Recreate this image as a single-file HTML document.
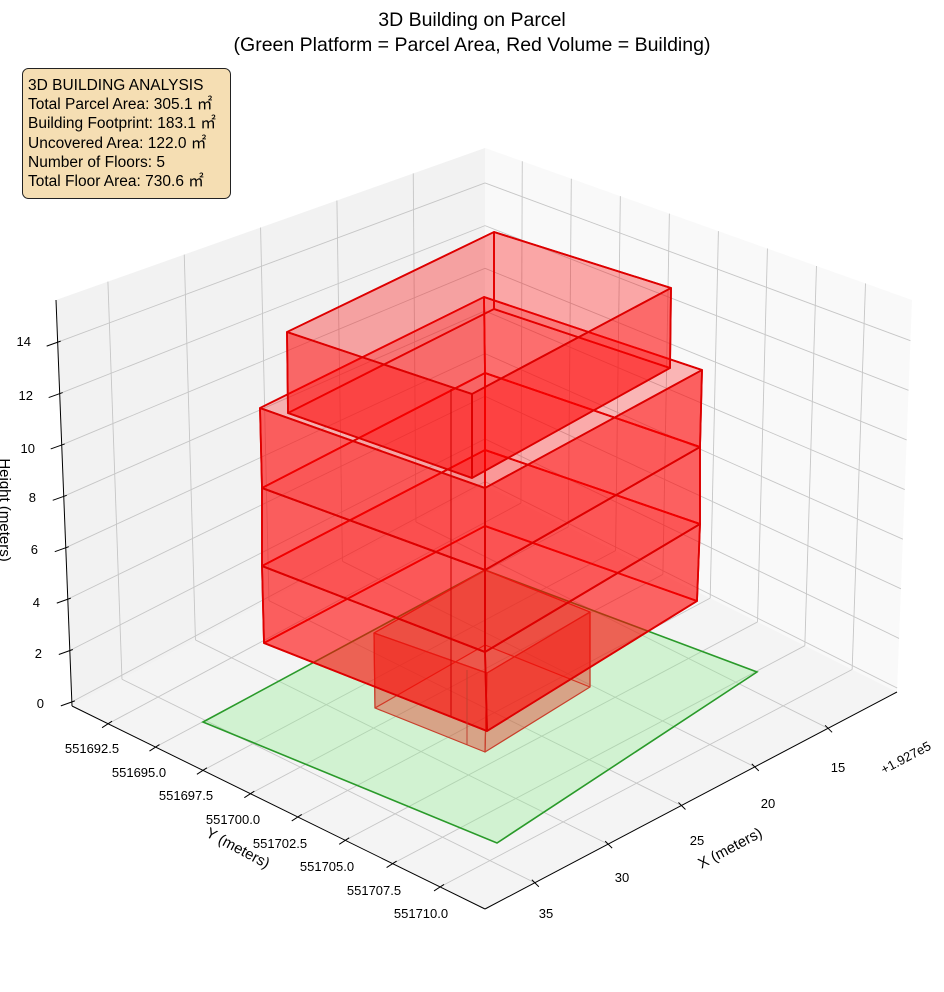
<!DOCTYPE html>
<html><head><meta charset="utf-8"><style>
html,body{margin:0;padding:0;background:#fff;}
svg{display:block;font-family:"Liberation Sans","Noto Sans CJK JP",sans-serif;}
</style></head><body>
<svg id="s" width="944" height="992" viewBox="0 0 944 992" xmlns="http://www.w3.org/2000/svg">
<polygon points="56,300 485,148 485,485 72,706" fill="#f2f2f2"/>
<polygon points="485,148 912,300 897,692 485,485" fill="#f9f9f9"/>
<polygon points="72,706 485,485 897,692 485,909" fill="#f4f4f4"/>
<g id="grid" stroke="#c6c6c6" stroke-width="0.9" fill="none"></g>
<polygon points="203,722 485,570 757,672 497,843" fill="rgba(144,238,144,0.35)" stroke="#2a9a2a" stroke-width="1.6"/>
<g id="boxes"></g>
<line x1="451" y1="389" x2="451" y2="716" stroke="#c00" stroke-width="1"/>
<line x1="467" y1="670" x2="467" y2="745" stroke="#c04030" stroke-width="1"/>
<g id="axes" stroke="#000" stroke-width="1" fill="none">
<line x1="72" y1="706" x2="56" y2="300"/>
<line x1="72" y1="706" x2="485" y2="909"/>
<line x1="485" y1="909" x2="897" y2="692"/>
</g>
<g font-size="13" fill="#000">
<text x="44" y="708" text-anchor="end">0</text>
<text x="42" y="658" text-anchor="end">2</text>
<text x="40" y="607" text-anchor="end">4</text>
<text x="38" y="554" text-anchor="end">6</text>
<text x="36" y="502" text-anchor="end">8</text>
<text x="35" y="453" text-anchor="end">10</text>
<text x="33" y="400" text-anchor="end">12</text>
<text x="31" y="346" text-anchor="end">14</text>
<text x="92" y="753" text-anchor="middle">551692.5</text>
<text x="139" y="777" text-anchor="middle">551695.0</text>
<text x="186" y="800" text-anchor="middle">551697.5</text>
<text x="233" y="824" text-anchor="middle">551700.0</text>
<text x="280" y="848" text-anchor="middle">551702.5</text>
<text x="327" y="871" text-anchor="middle">551705.0</text>
<text x="374" y="895" text-anchor="middle">551707.5</text>
<text x="421" y="918" text-anchor="middle">551710.0</text>
<text x="838" y="772" text-anchor="middle">15</text>
<text x="768" y="808" text-anchor="middle">20</text>
<text x="697" y="845" text-anchor="middle">25</text>
<text x="622" y="882" text-anchor="middle">30</text>
<text x="546" y="918" text-anchor="middle">35</text>
<text x="906" y="762" text-anchor="middle" transform="rotate(-28 906 758)">+1.927e5</text>
</g>
<g font-size="15" fill="#000">
<text x="730" y="853" text-anchor="middle" transform="rotate(-28 730 848)">X (meters)</text>
<text x="238" y="853" text-anchor="middle" transform="rotate(28 238 848)">Y (meters)</text>
<text x="0" y="0" text-anchor="middle" transform="translate(0,510) rotate(90)">Height (meters)</text>
</g>
<g font-size="19.5" fill="#000" text-anchor="middle">
<text x="472" y="26">3D Building on Parcel</text>
<text x="472" y="51">(Green Platform = Parcel Area, Red Volume = Building)</text>
</g>
<rect x="22.5" y="68.5" width="208" height="130" rx="6" fill="#f5deb3" stroke="#222" stroke-width="1"/>
<g font-size="15.5" fill="#000">
<text x="28" y="90">3D BUILDING ANALYSIS</text>
<text x="28" y="109">Total Parcel Area: 305.1 ㎡</text>
<text x="28" y="128">Building Footprint: 183.1 ㎡</text>
<text x="28" y="148">Uncovered Area: 122.0 ㎡</text>
<text x="28" y="167">Number of Floors: 5</text>
<text x="28" y="186">Total Floor Area: 730.6 ㎡</text>
</g>
</svg>
<script>
(function(){
var NS="http://www.w3.org/2000/svg";
var B0=[485,485],L0=[72,706],R0=[897,692],F0=[485,909],B1=[485,148],L1=[56,300],R1=[912,300];
function bil(P00,P10,P01,P11,a,b){return [P00[0]*(1-a)*(1-b)+P10[0]*a*(1-b)+P01[0]*(1-a)*b+P11[0]*a*b,
P00[1]*(1-a)*(1-b)+P10[1]*a*(1-b)+P01[1]*(1-a)*b+P11[1]*a*b];}
function fx(X){return (X-10.3)/28.1;} function fy(Y){return (Y-551690.6)/21.77;} function fz(Z){return (Z+0.16)/15.8;}
var g=document.getElementById('grid'),ax=document.getElementById('axes');
function ln(par,p,q){var l=document.createElementNS(NS,'line');l.setAttribute('x1',p[0]);l.setAttribute('y1',p[1]);l.setAttribute('x2',q[0]);l.setAttribute('y2',q[1]);par.appendChild(l);}
var xs=[15,20,25,30,35],ys=[],zs=[0,2,4,6,8,10,12,14];
for(var y=551692.5;y<=551710.01;y+=2.5)ys.push(y);
xs.forEach(function(X){var a=fx(X);
ln(g,bil(B0,L0,R0,F0,a,0),bil(B0,L0,R0,F0,a,1));
ln(g,bil(B0,L0,B1,L1,a,0),bil(B0,L0,B1,L1,a,1));
var p=bil(B0,L0,R0,F0,a,1);ln(ax,[p[0]+4,p[1]+4],[p[0]-3,p[1]-3]);});
ys.forEach(function(Y){var b=fy(Y);
ln(g,bil(B0,L0,R0,F0,0,b),bil(B0,L0,R0,F0,1,b));
ln(g,bil(B0,R0,B1,R1,b,0),bil(B0,R0,B1,R1,b,1));
var p=bil(B0,L0,R0,F0,1,b);ln(ax,[p[0]-6,p[1]+4],[p[0]+4,p[1]-2.5]);});
zs.forEach(function(Z){var c=fz(Z);
ln(g,bil(B0,L0,B1,L1,0,c),bil(B0,L0,B1,L1,1,c));
ln(g,bil(B0,R0,B1,R1,0,c),bil(B0,R0,B1,R1,1,c));
var p=bil(B0,L0,B1,L1,1,c);ln(ax,[p[0]-11,p[1]+4],[p[0]+3,p[1]-1]);});
var bx=document.getElementById('boxes');
function poly(f,fill,stroke,sw){var p=document.createElementNS(NS,'polygon');p.setAttribute('points',f.map(function(q){return q.join(',');}).join(' '));
p.setAttribute('fill',fill);p.setAttribute('stroke',stroke);p.setAttribute('stroke-width',sw);p.setAttribute('stroke-linejoin','round');bx.appendChild(p);}
function box(t,b,col,aF,aB,aH,stroke,sw,drawTop,drawBot){
var c='rgba('+col+',';
if(drawBot)poly([b[0],b[1],b[2],b[3]],c+aH+')',stroke,sw);
poly([b[0],b[1],t[1],t[0]],c+aB+')',stroke,sw);
poly([b[1],b[2],t[2],t[1]],c+aB+')',stroke,sw);
poly([b[2],b[3],t[3],t[2]],c+aF+')',stroke,sw);
poly([b[3],b[0],t[0],t[3]],c+aF+')',stroke,sw);
if(drawTop)poly([t[0],t[1],t[2],t[3]],c+aH+')',stroke,sw);}
box([[374,633],[485,570],[590,612],[487,673]],[[375,708],[485,645],[590,687],[485,752]],'225,45,25',0.4,0.12,0.12,'#c8402c',1.2,true,false);
var lv=[[[262,566],[485,450],[700,524],[485,652]],[[262,488],[485,373],[700,447],[485,570]],[[260,408],[484,297],[702,370],[485,488]]];
var bot=[[264,643],[485,526],[697,601],[487,731]];
box(lv[0],bot,'255,0,0',0.55,0.14,0.1,'#dd0000',1.8,true,true);
box(lv[1],lv[0],'255,0,0',0.55,0.14,0.06,'#dd0000',1.8,true,false);
box(lv[2],lv[1],'255,0,0',0.55,0.14,0.15,'#dd0000',1.8,true,false);
box([[287,332],[494,232],[671,288],[472,394]],[[288,413],[494,309],[670,368],[472,478]],'255,0,0',0.5,0.14,0.22,'#dd0000',1.8,true,true);
})();
</script>
</body></html>
